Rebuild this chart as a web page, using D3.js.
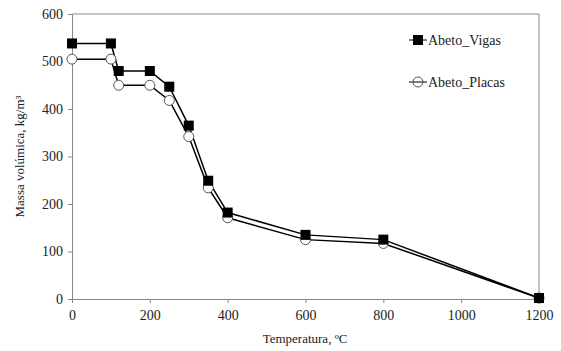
<!DOCTYPE html>
<html>
<head>
<meta charset="utf-8">
<script src="https://cdn.jsdelivr.net/npm/d3@7"></script>
<style>
  body { margin: 0; background: #fff; }
  svg text { font-family: "Liberation Serif", "DejaVu Serif", serif; fill: #222; }
</style>
</head>
<body>
<svg id="chart" width="561" height="351"></svg>
<script>
// data
const temps = [0, 100, 120, 200, 250, 300, 350, 400, 600, 800, 1200]
const vigas = [538, 538, 480, 480, 447, 365, 249, 182, 135, 125, 2]
const placas = [505, 505, 450, 450, 418, 342, 234, 171, 125, 117, 2]
const xTicks = [0, 200, 400, 600, 800, 1000, 1200]
const yTicks = [0, 100, 200, 300, 400, 500, 600]
const seriesNames = ['Abeto_Vigas', 'Abeto_Placas']

const margin = { top: 14, right: 22, bottom: 52, left: 72 }
const width = 561, height = 351
const axisColor = '#888'

const svg = d3.select('#chart')

const x = d3.scaleLinear().domain([0, 1200]).range([margin.left, width - margin.right])
const y = d3.scaleLinear().domain([0, 600]).range([height - margin.bottom, margin.top])

// frame (top + right)
svg.append('path')
  .attr('d', `M${x(0)},${y(600)}H${x(1200)}V${y(0)}`)
  .attr('fill', 'none').attr('stroke', axisColor).attr('stroke-width', 1)

const xAxis = svg.append('g')
  .attr('transform', `translate(0,${y(0)})`)
  .call(d3.axisBottom(x).tickValues(xTicks).tickSize(4).tickPadding(7).tickFormat(d3.format('d')))
const yAxis = svg.append('g')
  .attr('transform', `translate(${x(0)},0)`)
  .call(d3.axisLeft(y).tickValues(yTicks).tickSize(4).tickPadding(5).tickFormat(d3.format('d')))

;[xAxis, yAxis].forEach(g => {
  g.select('.domain').attr('stroke', axisColor)
  g.selectAll('.tick line').attr('stroke', axisColor)
  g.selectAll('text').attr('font-size', 14).attr('fill', '#222')
    .attr('font-family', '"Liberation Serif", serif')
})

const line = d3.line().x((d, i) => x(temps[i])).y(d => y(d))

// Placas behind, Vigas on top
svg.append('path').datum(placas)
  .attr('d', line).attr('fill', 'none').attr('stroke', '#000').attr('stroke-width', 1.5)
svg.append('path').datum(vigas)
  .attr('d', line).attr('fill', 'none').attr('stroke', '#000').attr('stroke-width', 1.5)

svg.append('g').selectAll('circle').data(placas).join('circle')
  .attr('cx', (d, i) => x(temps[i])).attr('cy', d => y(d)).attr('r', 5)
  .attr('fill', '#fff').attr('stroke', '#555').attr('stroke-width', 1)

svg.append('g').selectAll('rect').data(vigas).join('rect')
  .attr('x', (d, i) => x(temps[i]) - 5).attr('y', d => y(d) - 5)
  .attr('width', 10).attr('height', 10).attr('fill', '#000')

// legend
const legend = svg.append('g')
seriesNames.forEach((name, k) => {
  const ly = 40 + k * 42
  const g = legend.append('g').attr('transform', `translate(409,${ly})`)
  g.append('line').attr('x1', 0).attr('x2', 18).attr('y1', 0).attr('y2', 0)
    .attr('stroke', '#000').attr('stroke-width', 1)
  if (k === 0) {
    g.append('rect').attr('x', 4).attr('y', -5).attr('width', 10).attr('height', 10).attr('fill', '#000')
  } else {
    g.append('circle').attr('cx', 9).attr('cy', 0).attr('r', 5)
      .attr('fill', 'none').attr('stroke', '#555')
  }
  g.append('text').attr('x', 19).attr('y', 5).attr('font-size', 14).text(name)
})

// axis titles
svg.append('text')
  .attr('x', 305).attr('y', 343).attr('text-anchor', 'middle').attr('font-size', 13)
  .text('Temperatura, ºC')
svg.append('text')
  .attr('transform', `translate(24,${(y(0) + y(600)) / 2}) rotate(-90)`)
  .attr('text-anchor', 'middle').attr('font-size', 13)
  .text('Massa volúmica, kg/m³')
</script>
</body>
</html>
